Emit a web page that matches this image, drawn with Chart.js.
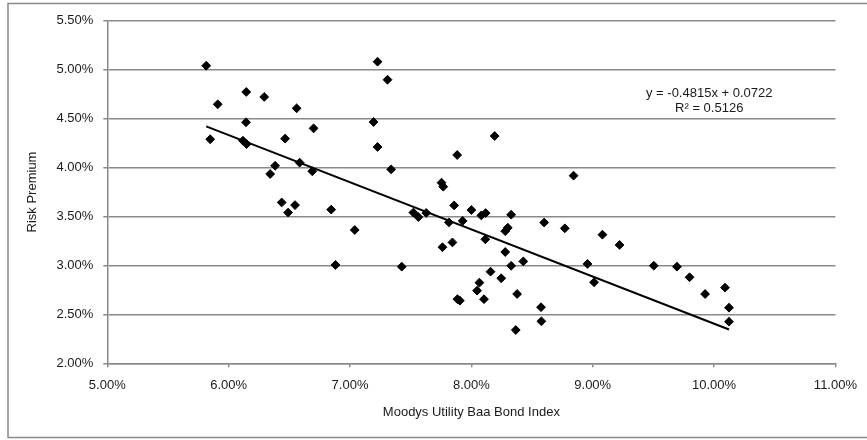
<!DOCTYPE html>
<html>
<head>
<meta charset="utf-8">
<script src="https://cdn.jsdelivr.net/npm/chart.js@4"></script>
<style>
	html, body { margin: 0; padding: 0; background: #fff; }
	#wrap { width: 867px; height: 440px; }
</style>
</head>
<body>
<div id="wrap"><canvas id="chart" width="867" height="440"></canvas></div>
<script>
// Moodys Utility Baa Bond Index (%)
const bondYield = [
	5.815, 5.91, 5.848, 6.145, 6.143, 6.293, 6.118, 6.148, 6.465, 6.56,
	6.383, 6.342, 6.585, 6.437, 6.547, 6.49, 6.70, 6.689, 6.845, 7.227,
	7.309, 7.194, 7.227, 7.339, 8.192, 7.883, 7.754, 7.768, 8.842, 7.522,
	7.563, 7.628, 7.858, 8.0, 8.082, 8.118, 8.328, 7.039, 6.88, 7.426,
	7.815, 7.928, 8.60, 8.77, 8.279, 8.30, 8.115, 7.762, 7.844, 8.279,
	8.428, 8.328, 8.158, 8.246, 8.066, 8.047, 7.885, 7.905, 8.104, 8.377,
	8.574, 8.577, 8.366, 9.08, 9.221, 8.957, 9.011, 9.503, 9.694, 9.798,
	9.926, 10.09, 10.123, 10.123,
];

// Risk Premium (%)
const riskPremium = [
	5.04, 4.646, 4.289, 4.772, 4.462, 4.721, 4.274, 4.24, 4.295, 4.605,
	4.018, 3.934, 4.05, 3.643, 3.616, 3.54, 4.40, 3.962, 3.57, 5.081,
	4.897, 4.465, 4.21, 3.981, 4.322, 4.128, 3.845, 3.804, 3.917, 3.54,
	3.494, 3.536, 3.613, 3.566, 3.511, 3.535, 3.518, 3.362, 3.005, 2.987,
	3.44, 3.455, 3.438, 3.379, 3.35, 3.385, 3.267, 3.186, 3.235, 3.137,
	3.041, 2.996, 2.936, 2.869, 2.824, 2.742, 2.655, 2.64, 2.655, 2.708,
	2.573, 2.429, 2.34, 3.314, 3.209, 3.015, 2.828, 2.997, 2.987, 2.879,
	2.708, 2.773, 2.568, 2.425,
];

// trendline shown on the chart: y = -0.4815x + 0.0722 (in fractions)
const trendSlope = -0.4815;
const trendIntercept = 7.22;
const trendText = ['y = -0.4815x + 0.0722', 'R\u00B2 = 0.5126'];
const trendTextAt = { x: 9.96, y: 4.685 };

const xTicks = [5, 6, 7, 8, 9, 10, 11];
const yTicks = [2, 2.5, 3, 3.5, 4, 4.5, 5, 5.5];

const gray = '#898989';
const textColor = '#1a1a1a';
const fontFamily = '"Liberation Sans", Arial, sans-serif';

const points = bondYield.map((x, i) => ({ x, y: riskPremium[i] }));
const xMin = Math.min(...bondYield);
const xMax = Math.max(...bondYield);
const trendPoints = [xMin, xMax].map((x) => ({ x, y: trendSlope * x + trendIntercept }));

const pct = (value) => Number(value).toFixed(2) + '%';

const frame = {
	id: 'frame',
	beforeDraw(chart) {
		const { ctx } = chart;
		ctx.save();
		ctx.fillStyle = '#fff';
		ctx.fillRect(0, 0, chart.width, chart.height);
		ctx.strokeStyle = gray;
		ctx.lineWidth = 1.5;
		ctx.strokeRect(8, 3.5, chart.width + 10, 434);
		ctx.restore();
	},
};

const equation = {
	id: 'equation',
	afterDatasetsDraw(chart) {
		const { ctx, scales } = chart;
		const cx = scales.x.getPixelForValue(trendTextAt.x);
		const cy = scales.y.getPixelForValue(trendTextAt.y);
		ctx.save();
		ctx.font = '13px ' + fontFamily;
		ctx.fillStyle = textColor;
		ctx.textAlign = 'center';
		ctx.textBaseline = 'middle';
		ctx.fillText(trendText[0], cx, cy - 7.5);
		ctx.fillText(trendText[1], cx, cy + 7.5);
		ctx.restore();
	},
};

new Chart(document.getElementById('chart'), {
	type: 'scatter',
	data: {
		datasets: [
			{
				label: 'Risk Premium',
				data: points,
				pointStyle: 'rectRot',
				pointRadius: 4.4,
				pointBackgroundColor: '#000',
				pointBorderColor: '#000',
				pointBorderWidth: 1,
			},
			{
				type: 'line',
				label: 'Linear',
				data: trendPoints,
				borderColor: '#000',
				borderWidth: 2,
				pointRadius: 0,
				fill: false,
			},
		],
	},
	options: {
		responsive: false,
		animation: false,
		devicePixelRatio: 1,
		layout: {
			padding: { left: 8, right: 27.7, top: 20.7, bottom: 0 },
		},
		plugins: {
			legend: { display: false },
			tooltip: { enabled: false },
		},
		scales: {
			x: {
				type: 'linear',
				min: xTicks[0],
				max: xTicks[xTicks.length - 1],
				afterBuildTicks: (scale) => {
					scale.ticks = xTicks.map((value) => ({ value }));
				},
				afterFit: (scale) => {
					scale.height = 76.7;
				},
				ticks: {
					callback: pct,
					color: textColor,
					font: { family: fontFamily, size: 13 },
					padding: 10,
					maxRotation: 0,
				},
				grid: {
					drawOnChartArea: false,
					drawTicks: true,
					tickLength: 4,
					color: gray,
					lineWidth: 1.5,
				},
				border: { display: true, color: gray, width: 1.5 },
				title: {
					display: true,
					text: 'Moodys Utility Baa Bond Index',
					color: textColor,
					font: { family: fontFamily, size: 13 },
					padding: { top: 0, bottom: 20 },
				},
			},
			y: {
				type: 'linear',
				min: yTicks[0],
				max: yTicks[yTicks.length - 1],
				afterBuildTicks: (scale) => {
					scale.ticks = yTicks.map((value) => ({ value }));
				},
				afterFit: (scale) => {
					scale.width = 99.3;
				},
				ticks: {
					callback: pct,
					color: textColor,
					font: { family: fontFamily, size: 13 },
					padding: 10,
				},
				grid: {
					drawTicks: true,
					tickLength: 4,
					color: gray,
					lineWidth: 1.5,
				},
				border: { display: true, color: gray, width: 1.5 },
				title: {
					display: true,
					text: 'Risk Premium',
					color: textColor,
					font: { family: fontFamily, size: 13 },
					padding: { top: 17, bottom: 0 },
				},
			},
		},
	},
	plugins: [frame, equation],
});
</script>
</body>
</html>
